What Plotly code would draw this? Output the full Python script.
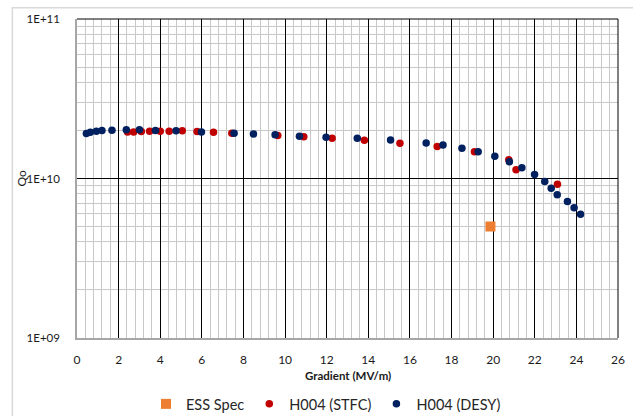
import plotly.graph_objects as go

# ---- data ----
ess_x = [19.87]
ess_y = [5.0e9]

stfc_x = [2.43, 2.72, 3.09, 3.49, 4.00, 4.43, 5.06, 5.77, 6.56, 7.44, 9.65, 10.90,
          12.26, 13.81, 15.52, 17.31, 19.10, 20.75, 21.10, 23.09]
stfc_y = [1.96e10, 1.96e10, 1.97e10, 1.98e10, 1.98e10, 1.98e10, 1.99e10, 1.97e10, 1.95e10, 1.92e10, 1.86e10, 1.83e10,
          1.79e10, 1.738e10, 1.665e10, 1.587e10, 1.47e10, 1.312e10, 1.135e10, 9.2e9]

desy_x = [0.45, 0.64, 0.93, 1.20, 1.68, 2.37, 3.00, 3.77, 4.76, 5.98, 7.55, 8.48, 9.52, 10.69,
          11.97, 13.47, 15.07, 16.78, 17.59, 18.50, 19.28, 20.08, 20.78, 21.38, 21.99, 22.48,
          22.79, 23.08, 23.57, 23.89, 24.20]
desy_y = [1.915e10, 1.95e10, 1.98e10, 2.0e10, 2.01e10, 2.02e10, 2.02e10, 2.0e10, 1.99e10, 1.96e10, 1.92e10, 1.90e10, 1.88e10, 1.84e10,
          1.815e10, 1.79e10, 1.743e10, 1.67e10, 1.62e10, 1.547e10, 1.47e10, 1.38e10, 1.273e10, 1.167e10, 1.06e10, 9.58e9,
          8.69e9, 7.9e9, 7.18e9, 6.55e9, 5.97e9]

y_tickvals = [1e9, 1e10, 1e11]
y_ticktext = ["1E+09", "1E+10", "1E+11"]

FONT = "Lato"
TXT = "#1a1a1a"
LEG = "#262626"

fig = go.Figure()
fig.add_trace(go.Scatter(x=ess_x, y=ess_y, mode="markers", name="ESS Spec",
                         marker=dict(symbol="square", size=10, color="#ED7D31")))
fig.add_trace(go.Scatter(x=stfc_x, y=stfc_y, mode="markers", name="H004 (STFC)",
                         marker=dict(symbol="circle", size=7.5, color="#C00000")))
fig.add_trace(go.Scatter(x=desy_x, y=desy_y, mode="markers", name="H004 (DESY)",
                         marker=dict(symbol="circle", size=7.5, color="#002060")))

minor_y = [d * 10 ** e for e in (9, 10) for d in range(2, 10)]

fig.update_layout(
    width=633, height=416,
    margin=dict(l=77, r=15, t=19, b=78, autoexpand=False),
    paper_bgcolor="white", plot_bgcolor="white",
    font=dict(family=FONT, size=12, color=TXT),
    showlegend=True,
    legend=dict(orientation="h", x=0.515, xanchor="center", xref="container",
                y=0.029, yanchor="middle", yref="container",
                font=dict(family=FONT, size=14.5, color=LEG), itemwidth=30,
                bgcolor="rgba(0,0,0,0)"),
    xaxis=dict(range=[0, 26], tick0=0, dtick=2, showgrid=True, gridcolor="#000000", gridwidth=1,
               zeroline=False, showline=True, linecolor="#a6a6a6", linewidth=1.5, mirror=False,
               automargin=False,
               ticks="", ticklabelstandoff=10, tickfont=dict(size=12, color=TXT),
               minor=dict(tick0=0, dtick=0.4, showgrid=True, gridcolor="#c8c8c8", gridwidth=1)),
    yaxis=dict(type="log", range=[9, 11], tickmode="array", tickvals=y_tickvals, ticktext=y_ticktext,
               showgrid=True, gridcolor="#000000", gridwidth=1, zeroline=False,
               showline=True, linecolor="#a6a6a6", linewidth=1.5, automargin=False,
               ticks="", ticklabelstandoff=13, tickfont=dict(size=11.5, color=TXT),
               minor=dict(tickmode="array", tickvals=minor_y, showgrid=True, gridcolor="#c8c8c8", gridwidth=1)),
    annotations=[
        dict(text="Qo", xref="paper", yref="paper", x=-0.1033, y=0.5, textangle=-90,
             showarrow=False, font=dict(family=FONT, size=12, color=TXT), xanchor="center", yanchor="middle"),
        dict(text="<b>Gradient (MV/m)</b>", xref="paper", yref="paper", x=0.5, y=-0.118,
             showarrow=False, font=dict(family=FONT, size=11.5, color=TXT), xanchor="center", yanchor="middle"),
    ],
    shapes=[
        dict(type="rect", xref="paper", yref="paper", x0=-0.1195, x1=1.2, y0=-0.4, y1=1.0354,
             line=dict(color="#d9d9d9", width=1.5), fillcolor="rgba(0,0,0,0)", layer="below"),
        dict(type="line", xref="paper", yref="paper", x0=0, x1=1, y0=1, y1=1,
             line=dict(color="#000000", width=1)),
        dict(type="line", xref="paper", yref="paper", x0=1, x1=1, y0=0, y1=1,
             line=dict(color="#000000", width=1)),
    ],
)

fig.write_html("out.html", config={"displayModeBar": False},
               post_script="document.body.style.margin='0px';document.body.style.overflow='hidden';")
